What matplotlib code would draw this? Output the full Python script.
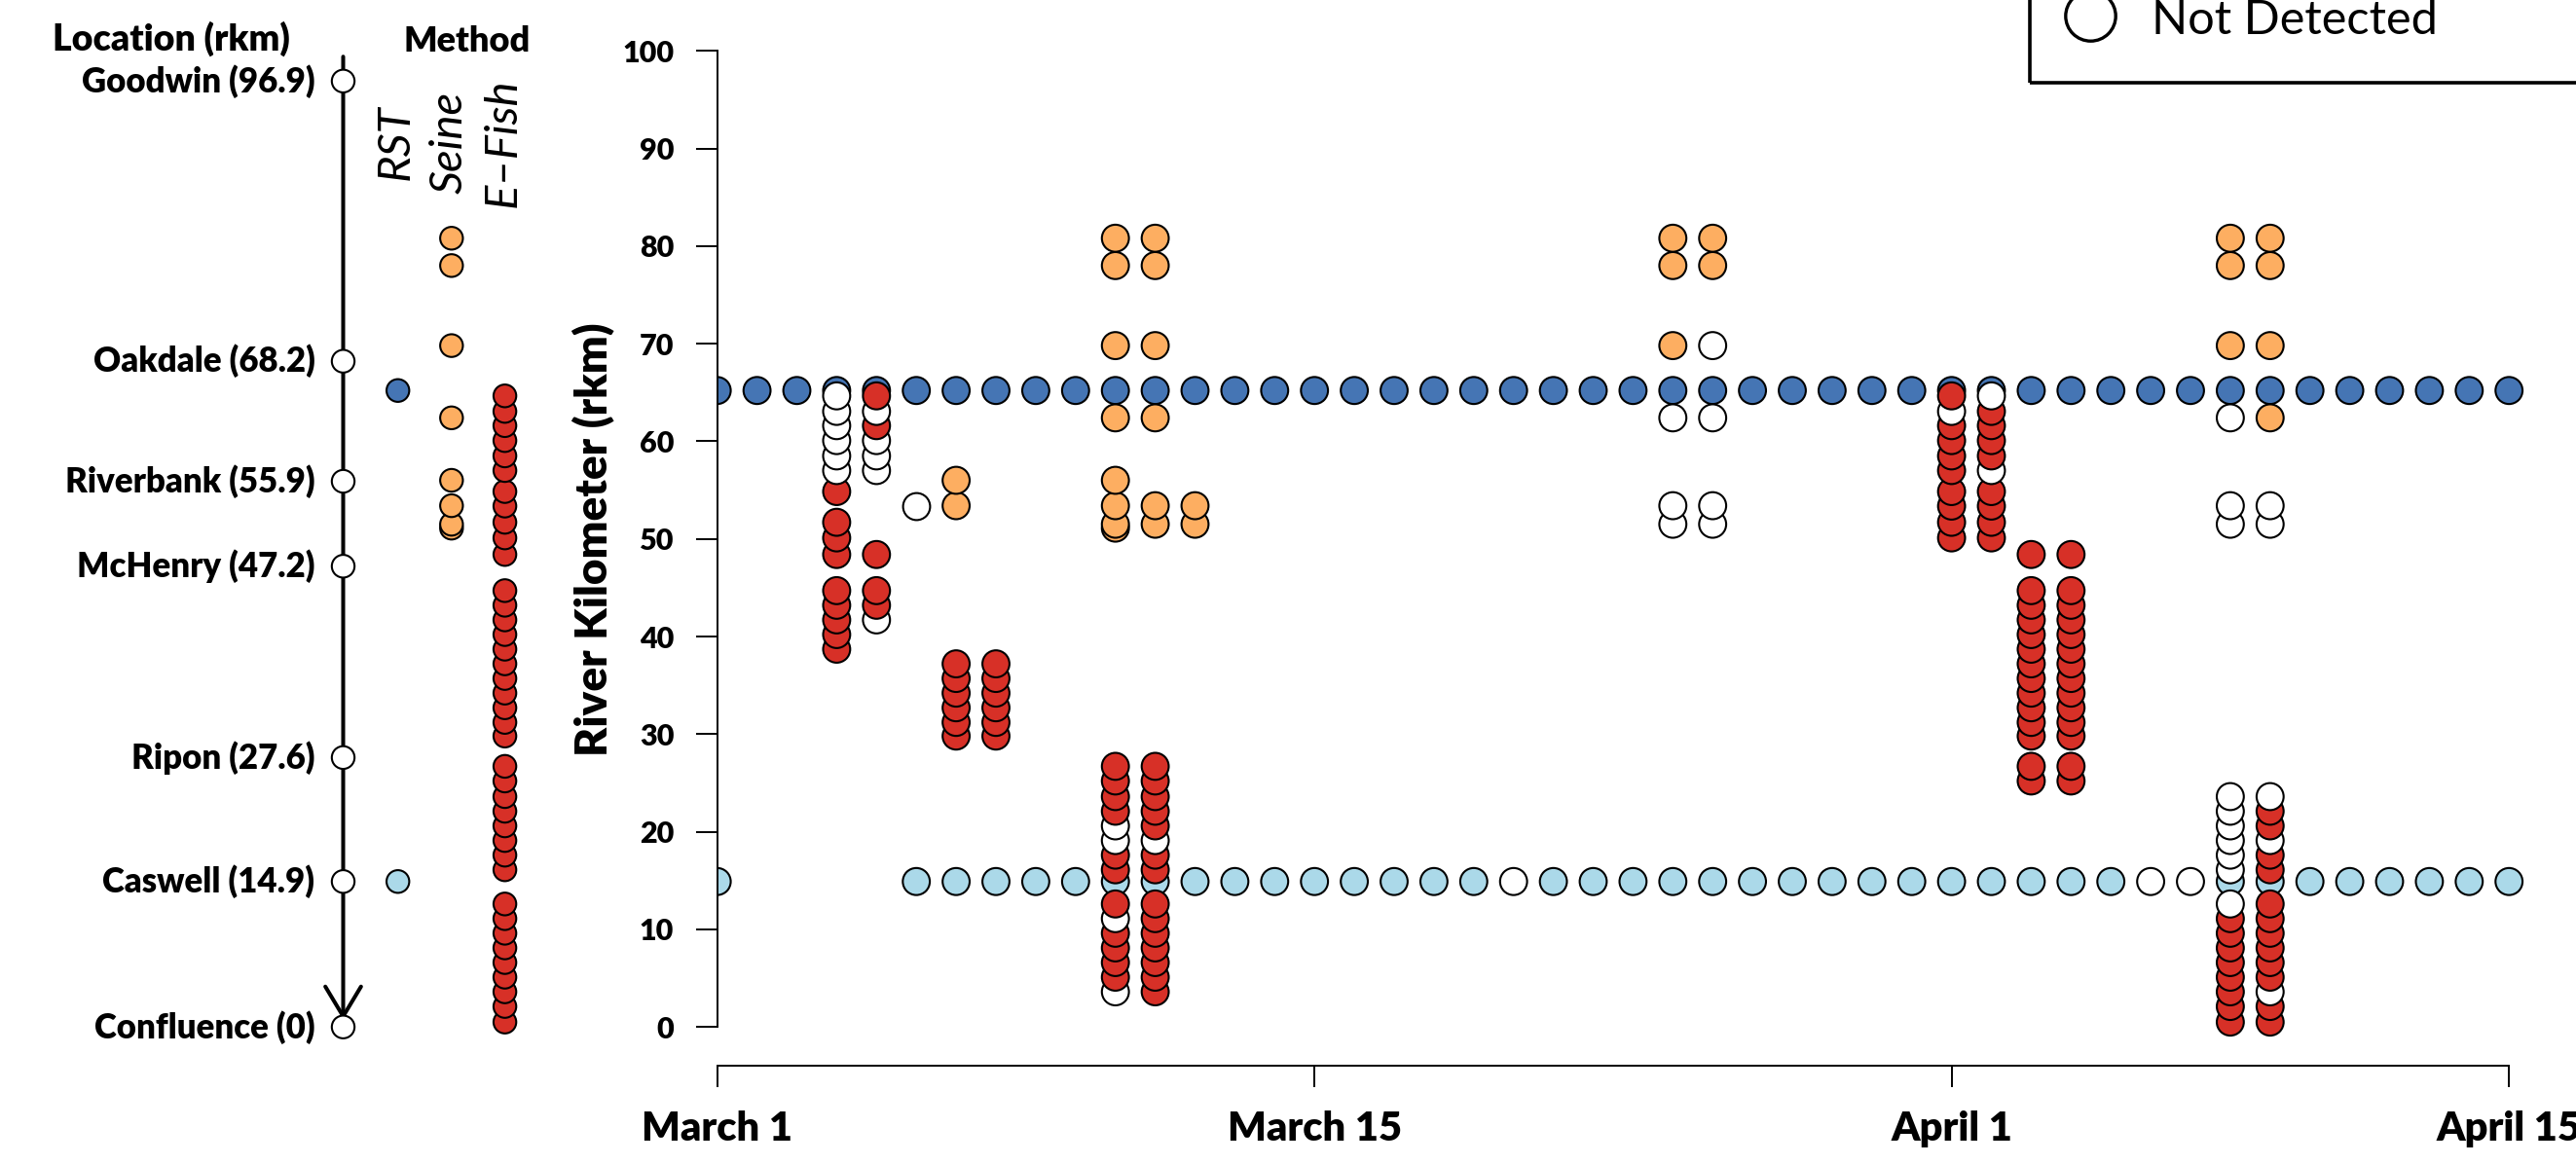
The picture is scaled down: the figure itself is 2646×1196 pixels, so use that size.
import matplotlib
matplotlib.use("Agg")
import matplotlib.pyplot as plt
from matplotlib.lines import Line2D
from matplotlib.patches import Rectangle

plt.rcParams["font.family"] = ["Lato", "DejaVu Sans"]

# ---- data -------------------------------------------------------------
# x = day index from March 1 (0) to April 15 (45)
tick_days = [0, 15, 31, 45]
tick_labels = ["March 1", "March 15", "April 1", "April 15"]

# RST at Oakdale area (65.2) : detected every day
rst_up_rkm = 65.2
rst_up_det = [1] * 46
# RST at Caswell (14.9): 1 detected, 0 not detected, -1 not sampled
rst_low_rkm = 14.9
rst_low_det = [1, -1, -1, -1, -1, 1, 1, 1, 1, 1,
               1, 1, 1, 1, 1, 1, 1, 1, 1, 1,
               0, 1, 1, 1, 1, 1, 1, 1, 1, 1,
               1, 1, 1, 1, 1, 1, 0, 0, 1, 1,
               1, 1, 1, 1, 1, 1]

# seine hauls: day -> (rkm list, detected list)
seine_days = [5, 6, 10, 11, 12, 24, 25, 38, 39]
seine_rkm = [
    [53.4],
    [56.0, 53.4],
    [80.8, 78.0, 69.8, 62.4, 56.0, 53.4, 51.5, 51.1],
    [80.8, 78.0, 69.8, 62.4, 53.4, 51.5],
    [53.4, 51.5],
    [80.8, 78.0, 69.8, 62.4, 53.4, 51.5],
    [80.8, 78.0, 69.8, 62.4, 53.4, 51.5],
    [80.8, 78.0, 69.8, 62.4, 53.4, 51.5],
    [80.8, 78.0, 69.8, 62.4, 53.4, 51.5],
]
seine_det = [
    [0],
    [1, 1],
    [1, 1, 1, 1, 1, 1, 1, 1],
    [1, 1, 1, 1, 1, 1],
    [1, 1],
    [1, 1, 1, 0, 0, 0],
    [1, 1, 0, 0, 0, 0],
    [1, 1, 1, 0, 0, 0],
    [1, 1, 1, 1, 0, 0],
]

# electrofishing: day -> (rkm list, detected list)
efish_days = [3, 4, 6, 7, 10, 11, 31, 32, 33, 34, 38, 39]
efish_rkm = [
    [64.65, 63.06, 61.6, 60.07, 58.5, 57.0, 54.85, 51.7, 50.1, 48.4,
     44.7, 43.2, 41.7, 40.2, 38.7],
    [64.65, 63.06, 61.6, 60.07, 58.5, 57.0, 48.4, 44.7, 43.2, 41.7],
    [37.2, 35.7, 34.2, 32.7, 31.2, 29.8],
    [37.2, 35.7, 34.2, 32.7, 31.2, 29.8],
    [26.7, 25.2, 23.6, 22.1, 20.6, 19.1, 17.6, 16.1,
     12.6, 11.1, 9.6, 8.1, 6.6, 5.1, 3.6],
    [26.7, 25.2, 23.6, 22.1, 20.6, 19.1, 17.6, 16.1,
     12.6, 11.1, 9.6, 8.1, 6.6, 5.1, 3.6],
    [64.65, 63.06, 61.6, 60.07, 58.5, 57.0, 54.85, 53.36, 51.7, 50.1],
    [64.65, 63.06, 61.6, 60.07, 58.5, 57.0, 54.85, 53.36, 51.7, 50.1],
    [48.4, 44.7, 43.2, 41.7, 40.2, 38.7, 37.2, 35.7, 34.2, 32.7, 31.2,
     29.8, 26.7, 25.2],
    [48.4, 44.7, 43.2, 41.7, 40.2, 38.7, 37.2, 35.7, 34.2, 32.7, 31.2,
     29.8, 26.7, 25.2],
    [23.6, 22.1, 20.6, 19.1, 17.6, 16.1,
     12.6, 11.1, 9.6, 8.1, 6.6, 5.1, 3.6, 2.1, 0.5],
    [23.6, 22.1, 20.6, 19.1, 17.6, 16.1,
     12.6, 11.1, 9.6, 8.1, 6.6, 5.1, 3.6, 2.1, 0.5],
]
efish_det = [
    [0, 0, 0, 0, 0, 0, 1, 1, 1, 1, 1, 1, 1, 1, 1],
    [1, 0, 1, 0, 0, 0, 1, 1, 1, 0],
    [1, 1, 1, 1, 1, 1],
    [1, 1, 1, 1, 1, 1],
    [1, 1, 1, 1, 0, 0, 1, 1, 1, 0, 1, 1, 1, 1, 0],
    [1, 1, 1, 1, 1, 0, 1, 1, 1, 1, 1, 1, 1, 1, 1],
    [1, 0, 1, 1, 1, 1, 1, 1, 1, 1],
    [0, 1, 1, 1, 1, 0, 1, 1, 1, 1],
    [1] * 14,
    [1] * 14,
    [0, 0, 0, 0, 0, 0, 0, 1, 1, 1, 1, 1, 1, 1, 1],
    [0, 1, 1, 0, 1, 1, 1, 1, 1, 1, 1, 1, 0, 1, 1],
]

# left panel: landmarks and sampling sites by method
places = ["Goodwin", "Oakdale", "Riverbank", "McHenry", "Ripon", "Caswell",
          "Confluence"]
place_rkm = [96.9, 68.2, 55.9, 47.2, 27.6, 14.9, 0]
place_txt = ["96.9", "68.2", "55.9", "47.2", "27.6", "14.9", "0"]
seine_sites = [80.8, 78.0, 69.8, 62.4, 56.0, 53.4, 51.5, 51.1]
efish_sites = [64.65, 63.06, 61.6, 60.07, 58.5, 57.0, 54.85, 53.36, 51.7,
               50.1, 48.4,
               44.7, 43.2, 41.7, 40.2, 38.7, 37.2, 35.7, 34.2, 32.7, 31.2,
               29.8,
               26.7, 25.2, 23.6, 22.1, 20.6, 19.1, 17.6, 16.1,
               12.6, 11.1, 9.6, 8.1, 6.6, 5.1, 3.6, 2.1, 0.5]

# ---- style ------------------------------------------------------------
C_RED = "#D73027"
C_ORANGE = "#FDAE61"
C_LBLUE = "#ABD9E9"
C_DBLUE = "#4575B4"
C_NONE = "white"
BOLD = 800

W, H = 2646, 1196
DPI = 100
X0_PX = 736.7      # pixel x of day 0
DAY_PX = 40.9      # pixels per day
Y0_PX = 1055.2     # pixel y (from top) of rkm 0
RKM_PX = 10.03     # pixels per rkm
XMAX = 46.8
YLIM = (-4, 104)

S_MAIN = 20 ** 2
S_LEFT = 16.8 ** 2
EW = 1.5

fig = plt.figure(figsize=(W / DPI, H / DPI), dpi=DPI)

ax_bottom = 1 - (Y0_PX - YLIM[0] * RKM_PX) / H
ax_height = (YLIM[1] - YLIM[0]) * RKM_PX / H
ax = fig.add_axes([X0_PX / W, ax_bottom, XMAX * DAY_PX / W, ax_height])
axl = fig.add_axes([0, ax_bottom, X0_PX / W, ax_height])


def dots(a, xs, ys, cols, s, clip=True):
    """points drawn bottom-up so the upper ones sit on top"""
    order = sorted(range(len(ys)), key=lambda i: ys[i])
    a.scatter([xs[i] for i in order], [ys[i] for i in order], s=s,
              c=[cols[i] for i in order], edgecolors="black",
              linewidths=EW, zorder=3, clip_on=clip)


# ---- main panel -------------------------------------------------------
days = list(range(len(rst_up_det)))
ax.scatter(days, [rst_up_rkm] * len(days), s=S_MAIN,
           c=[C_DBLUE if d else C_NONE for d in rst_up_det],
           edgecolors="black", linewidths=EW, zorder=2)
low = [(d, v) for d, v in zip(days, rst_low_det) if v >= 0]
ax.scatter([d for d, _ in low], [rst_low_rkm] * len(low), s=S_MAIN,
           c=[C_LBLUE if v else C_NONE for _, v in low],
           edgecolors="black", linewidths=EW, zorder=2)

for d, rk, dt in zip(seine_days, seine_rkm, seine_det):
    dots(ax, [d] * len(rk), rk, [C_ORANGE if v else C_NONE for v in dt],
         S_MAIN)
for d, rk, dt in zip(efish_days, efish_rkm, efish_det):
    dots(ax, [d] * len(rk), rk, [C_RED if v else C_NONE for v in dt],
         S_MAIN)

ax.set_xlim(0, XMAX)
ax.set_ylim(*YLIM)
for side in ["top", "right"]:
    ax.spines[side].set_visible(False)
ax.spines["left"].set_bounds(0, 100)
ax.spines["bottom"].set_bounds(tick_days[0], tick_days[-1])
for side in ["left", "bottom"]:
    ax.spines[side].set_linewidth(1.4)
ax.set_yticks(range(0, 101, 10))
ax.set_xticks(tick_days)
ax.set_xticklabels(tick_labels)
ax.tick_params(axis="y", length=16, width=1.4, pad=16, labelsize=22)
ax.tick_params(axis="x", length=16, width=1.4, pad=17, labelsize=30)
for lab in ax.get_xticklabels() + ax.get_yticklabels():
    lab.set_fontweight(BOLD)
ax.set_ylabel("River Kilometer (rkm)", fontsize=33, fontweight=BOLD,
              labelpad=6)

# ---- left panel -------------------------------------------------------
X_LINE, X_RST, X_SEINE, X_EF = 352.5, 408.7, 463.8, 518.6
axl.set_xlim(0, X0_PX)
axl.set_ylim(*YLIM)
axl.axis("off")

axl.annotate("", xy=(X_LINE, 0.7), xytext=(X_LINE, 99.4),
             arrowprops=dict(arrowstyle="->,head_length=1.0,head_width=0.6",
                             lw=2.9, color="black", shrinkA=0, shrinkB=0,
                             mutation_scale=22))
dots(axl, [X_LINE] * len(place_rkm), place_rkm, [C_NONE] * len(place_rkm),
     S_LEFT, clip=False)
for name, rk, txt in zip(places, place_rkm, place_txt):
    axl.text(X_LINE - 29, rk, f"{name} ({txt})", ha="right", va="center",
             fontsize=25, fontweight=BOLD)

dots(axl, [X_RST, X_RST], [rst_up_rkm, rst_low_rkm], [C_DBLUE, C_LBLUE],
     S_LEFT)
dots(axl, [X_SEINE] * len(seine_sites), seine_sites,
     [C_ORANGE] * len(seine_sites), S_LEFT)
dots(axl, [X_EF] * len(efish_sites), efish_sites,
     [C_RED] * len(efish_sites), S_LEFT)

axl.text(176, 101.2, "Location (rkm)", ha="center", va="center",
         fontsize=27, fontweight=BOLD, clip_on=False)
axl.text(479.5, 101.0, "Method", ha="center", va="center",
         fontsize=26, fontweight=BOLD, clip_on=False)
for xm, lab in [(X_RST, "RST"), (X_SEINE, "Seine"), (X_EF, "E\u2013Fish")]:
    axl.text(xm - 2, 90.6, lab, rotation=90, ha="center", va="center",
             fontsize=34, style="italic")

# ---- legend (only its lower part falls inside the figure) -------------
fig.add_artist(Rectangle((2085 / W, 1 - 85 / H), 0.3, 0.2,
                         transform=fig.transFigure, fill=False,
                         lw=2.6, ec="black"))
fig.add_artist(Line2D([2147 / W], [1 - 15.5 / H], marker="o", ms=37,
                      mfc="white", mec="black", mew=2.4,
                      transform=fig.transFigure))
fig.text(2210 / W, 1 - 35 / H, "Not Detected", ha="left", va="baseline",
         fontsize=35)

fig.savefig("out.png", dpi=DPI)
